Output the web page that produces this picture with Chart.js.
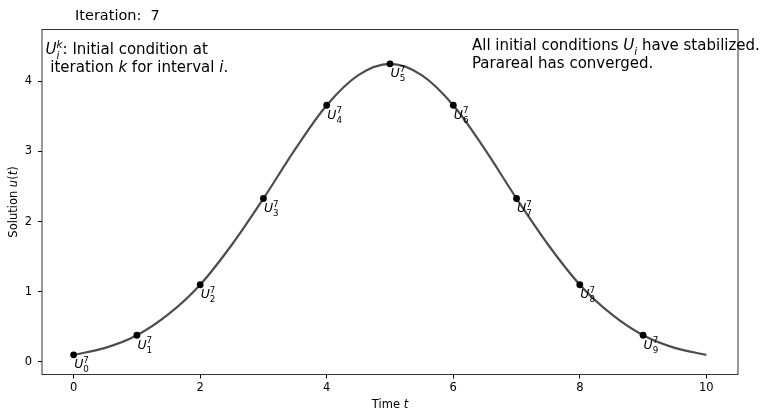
<!DOCTYPE html>
<html>
<head>
<meta charset="utf-8">
<script src="https://cdn.jsdelivr.net/npm/chart.js@4.4.1/dist/chart.umd.min.js"></script>
<style>
  html, body { margin: 0; padding: 0; background: #fff; }
  canvas { display: block; }
</style>
</head>
<body>
<canvas id="parareal" width="762" height="411"></canvas>
<script>
// Parareal state after the last iteration: fine solution and interval start values.
var iteration = 7;
var curveT = [0, 0.5, 1, 1.5, 2, 2.5, 3, 3.5, 4, 4.5, 5, 5.5, 6, 6.5, 7, 7.5, 8, 8.5, 9, 9.5, 10];
var curveU = [0.10, 0.20, 0.38, 0.68, 1.10, 1.67, 2.33, 3.03, 3.66, 4.09, 4.25, 4.09, 3.66, 3.03, 2.33, 1.67, 1.10, 0.68, 0.38, 0.20, 0.10];
var intervalT = [0, 1, 2, 3, 4, 5, 6, 7, 8, 9];
var intervalU = [0.10, 0.38, 1.10, 2.33, 3.66, 4.25, 3.66, 2.33, 1.10, 0.38];
var xTicks = [0, 2, 4, 6, 8, 10];
var yTicks = [0, 1, 2, 3, 4];

var FONT = '"DejaVu Sans", sans-serif';

/**
 * Draws a run of text pieces, some italic, some as sub/superscripts.
 * A piece with stack:true does not advance, so the next one sits above it.
 */
function drawRich(ctx, x, y, parts, size) {
  var pending = 0;
  parts.forEach(function (p) {
    var s = size, dy = 0;
    if (p.script === 'sub') { s = size * 0.7; dy = size * 0.32; }
    if (p.script === 'sup') { s = size * 0.7; dy = -size * 0.42; }
    ctx.font = (p.italic ? 'italic ' : '') + s + 'px ' + FONT;
    ctx.fillText(p.text, x, y + dy);
    var w = ctx.measureText(p.text).width;
    if (p.stack) {
      pending = w;
    } else {
      x += Math.max(w, pending);
      pending = 0;
    }
  });
}

var paraPlugin = {
  id: 'paraText',
  afterDraw: function (chart) {
    var ctx = chart.ctx;
    var area = chart.chartArea;
    var xs = chart.scales.x, ys = chart.scales.y;

    ctx.save();
    // axes frame
    ctx.strokeStyle = '#333';
    ctx.lineWidth = 1;
    ctx.strokeRect(area.left, area.top, area.right - area.left, area.bottom - area.top);

    ctx.fillStyle = '#000';
    ctx.textBaseline = 'alphabetic';
    ctx.textAlign = 'left';

    // iteration counter
    ctx.font = '14.5px ' + FONT;
    ctx.fillText('Iteration:  ' + iteration, 75, 19.5);

    // interval labels U_i^k next to each start value
    intervalT.forEach(function (t, i) {
      var px = xs.getPixelForValue(t);
      var py = ys.getPixelForValue(intervalU[i]);
      drawRich(ctx, px + 0.5, py + 13.5, [
        { text: 'U', italic: true },
        { text: String(i), script: 'sub', stack: true },
        { text: String(iteration), script: 'sup' }
      ], 12.5);
    });

    // notes in the upper corners
    drawRich(ctx, area.left + 3.5, 54, [
      { text: 'U', italic: true },
      { text: 'i', italic: true, script: 'sub', stack: true },
      { text: 'k', italic: true, script: 'sup' },
      { text: ': Initial condition at' }
    ], 15);
    drawRich(ctx, area.left + 3.5, 72.3, [
      { text: ' iteration ' },
      { text: 'k', italic: true },
      { text: ' for interval ' },
      { text: 'i', italic: true },
      { text: '.' }
    ], 15);

    drawRich(ctx, 472, 50.3, [
      { text: 'All initial conditions ' },
      { text: 'U', italic: true },
      { text: 'i', italic: true, script: 'sub' },
      { text: ' have stabilized.' }
    ], 15);
    drawRich(ctx, 472, 67.7, [
      { text: 'Parareal has converged.' }
    ], 15);

    // axis titles
    var midX = (area.left + area.right) / 2;
    ctx.font = '11.5px ' + FONT;
    var w1 = ctx.measureText('Time ').width;
    ctx.font = 'italic 11.5px ' + FONT;
    var w2 = ctx.measureText('t').width;
    drawRich(ctx, midX - (w1 + w2) / 2, 408, [
      { text: 'Time ' },
      { text: 't', italic: true }
    ], 11.5);

    var midY = (area.top + area.bottom) / 2;
    ctx.font = '11.5px ' + FONT;
    var wy = ctx.measureText('Solution ').width + ctx.measureText('(t)').width;
    ctx.font = 'italic 11.5px ' + FONT;
    wy += ctx.measureText('u').width;
    ctx.translate(17, midY);
    ctx.rotate(-Math.PI / 2);
    drawRich(ctx, -wy / 2, 0, [
      { text: 'Solution ' },
      { text: 'u', italic: true },
      { text: '(' },
      { text: 't', italic: true },
      { text: ')' }
    ], 11.5);
    ctx.restore();
  }
};

var curveData = curveT.map(function (t, i) { return { x: t, y: curveU[i] }; });
var pointData = intervalT.map(function (t, i) { return { x: t, y: intervalU[i] }; });

var axisGrid = {
  drawOnChartArea: false,
  drawTicks: true,
  tickLength: 4,
  tickColor: '#000',
  tickWidth: 1
};

new Chart(document.getElementById('parareal'), {
  type: 'line',
  data: {
    datasets: [
      {
        data: pointData,
        showLine: false,
        pointRadius: 3.4,
        pointBackgroundColor: '#000',
        pointBorderWidth: 0
      },
      {
        data: curveData,
        borderColor: '#4d4d4d',
        borderWidth: 2.2,
        pointRadius: 0,
        tension: 0.33,
        fill: false
      }
    ]
  },
  options: {
    responsive: false,
    animation: false,
    devicePixelRatio: 1,
    layout: { padding: { left: 0, top: 29.5, right: 24, bottom: 0 } },
    plugins: {
      legend: { display: false },
      tooltip: { enabled: false }
    },
    scales: {
      x: {
        type: 'linear',
        min: -0.5,
        max: 10.5,
        afterBuildTicks: function (scale) {
          scale.ticks = xTicks.map(function (v) { return { value: v }; });
        },
        afterFit: function (scale) { scale.height = 36.5; },
        grid: axisGrid,
        border: { display: false },
        ticks: { color: '#000', font: { family: FONT, size: 11.5 }, padding: 3, maxRotation: 0 }
      },
      y: {
        type: 'linear',
        min: -0.18,
        max: 4.74,
        afterBuildTicks: function (scale) {
          scale.ticks = yTicks.map(function (v) { return { value: v }; });
        },
        afterFit: function (scale) { scale.width = 42; },
        grid: axisGrid,
        border: { display: false },
        ticks: { color: '#000', font: { family: FONT, size: 11.5 }, padding: 6 }
      }
    }
  },
  plugins: [paraPlugin]
});
</script>
</body>
</html>
